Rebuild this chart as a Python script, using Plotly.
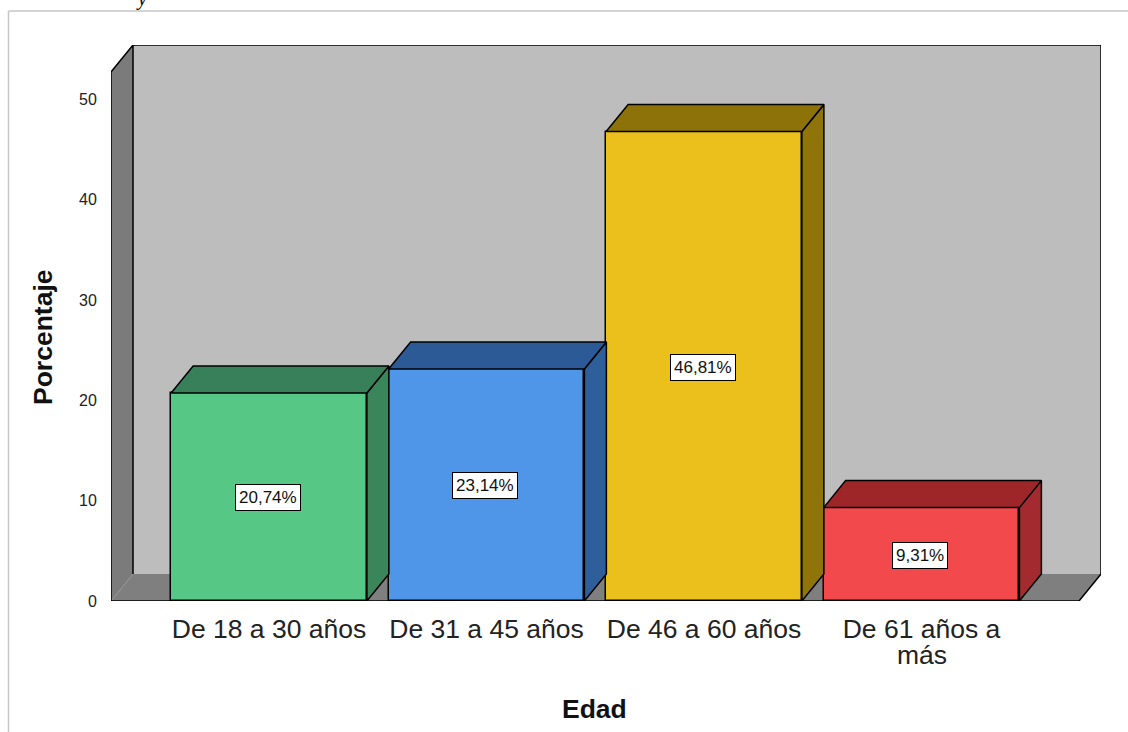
import plotly.graph_objects as go

categories = ["De 18 a 30 años", "De 31 a 45 años", "De 46 a 60 años", "De 61 años a", ]
category_second_line = ["", "", "", "más"]
values = [20.74, 23.14, 46.81, 9.31]
labels = ["20,74%", "23,14%", "46,81%", "9,31%"]
y_ticks = [0, 10, 20, 30, 40, 50]
front_colors = ["#57c785", "#4f96e8", "#ebc01c", "#f2494c"]
side_colors = ["#3a8559", "#2f5f9a", "#8f7409", "#a32a2e"]
top_colors = ["#38805a", "#2b5a96", "#8c7208", "#9e2629"]

W, H = 1128, 732
ML, MR, MT, MB = 111, 27, 45, 131
X0, STEP = 269.0, 217.5
Y0, UNIT = 601.0, 10.03
BAR_W = 0.9
DX = 22 / STEP
DY = 27 / UNIT
XR = [(ML - X0) / STEP, (W - MR - X0) / STEP]
YR = [0, (Y0 - MT) / UNIT]
xs = list(range(len(categories)))
PW, PH = W - ML - MR, H - MT - MB


def path(pts, close=True):
    return "M " + " L ".join(f"{a:.4f} {b:.4f}" for a, b in pts) + (" Z" if close else "")


def px(p):
    return (p - ML) / PW


def py(p):
    return (H - MB - p) / PH


x_l, x_r, y_t = XR[0], XR[1], YR[1]
NOLINE = dict(width=0)
shapes = [
    dict(type="path", path=path([(x_l + DX, DY), (x_r, DY), (x_r, y_t), (x_l + DX, y_t)]),
         fillcolor="#bdbdbd", line=NOLINE, layer="below"),
    dict(type="path", path=path([(x_l, 0), (x_l + DX, DY), (x_l + DX, y_t), (x_l, y_t - DY)]),
         fillcolor="#7b7b7b", line=NOLINE, layer="below"),
    dict(type="path", path=path([(x_l, 0), (x_r - DX, 0), (x_r, DY), (x_l + DX, DY)]),
         fillcolor="#7f7f7f", line=NOLINE, layer="below"),
    dict(type="path",
         path=path([(x_l + DX, DY), (x_l + DX, y_t), (x_r, y_t), (x_r, DY), (x_r - DX, 0),
                    (x_l, 0), (x_l, y_t - DY), (x_l + DX, y_t)], close=False),
         line=dict(color="#000000", width=1.5), layer="below"),
    # outer frame
    dict(type="line", xref="paper", yref="paper", x0=px(8.5), x1=px(W), y0=py(11), y1=py(11),
         line=dict(color="#c6c6c6", width=1.5), layer="below"),
    dict(type="line", xref="paper", yref="paper", x0=px(8.5), x1=px(8.5), y0=py(11), y1=py(H),
         line=dict(color="#c6c6c6", width=1.5), layer="below"),
]

fig = go.Figure()
fig.add_trace(go.Bar(
    x=xs, y=values, width=BAR_W,
    marker=dict(color=front_colors, line=dict(color="#000000", width=1.5)),
    hoverinfo="skip", showlegend=False,
))

for x, v, sc, tc in zip(xs, values, side_colors, top_colors):
    a, b = x - BAR_W / 2, x + BAR_W / 2
    fig.add_trace(go.Scatter(
        x=[b, b, b + DX, b + DX, b], y=[0, v, v + DY, DY, 0],
        mode="lines", fill="toself", fillcolor=sc,
        line=dict(color="#000000", width=1.5), hoverinfo="skip", showlegend=False,
    ))
    fig.add_trace(go.Scatter(
        x=[a, b, b + DX, a + DX, a], y=[v, v, v + DY, v + DY, v],
        mode="lines", fill="toself", fillcolor=tc,
        line=dict(color="#000000", width=1.5), hoverinfo="skip", showlegend=False,
    ))

annotations = [
    dict(x=x, y=v / 2, text=t, showarrow=False, bgcolor="#ffffff", bordercolor="#000000",
         borderwidth=1, borderpad=3, xshift=-1.5, yshift=-1,
         font=dict(family="Liberation Sans", size=17, color="#111111"))
    for x, v, t in zip(xs, values, labels)
]
annotations += [
    dict(x=x, xref="x", yref="paper", y=py(655), yanchor="middle", text=t, showarrow=False,
         font=dict(family="Liberation Sans", size=26.5, color="#222222"))
    for x, t in zip(xs, category_second_line) if t
]
annotations += [
    dict(xref="paper", yref="paper", x=px(134), y=py(-2), yanchor="middle", text="<i>y</i>",
         showarrow=False, font=dict(family="Liberation Serif", size=20, color="#000000")),
    dict(xref="paper", yref="paper", x=px(594), y=py(709), yanchor="middle", text="<b>Edad</b>",
         showarrow=False, font=dict(family="Liberation Sans", size=26.5, color="#111111")),
    dict(xref="paper", yref="paper", x=px(43), y=py(337), xanchor="center", yanchor="middle",
         text="<b>Porcentaje</b>", textangle=-90, showarrow=False,
         font=dict(family="Liberation Sans", size=26.5, color="#111111")),
]

fig.update_layout(
    width=W, height=H,
    margin=dict(l=ML, r=MR, t=MT, b=MB, autoexpand=False),
    paper_bgcolor="#ffffff", plot_bgcolor="rgba(0,0,0,0)",
    shapes=shapes, annotations=annotations,
    showlegend=False, bargap=0,
    font=dict(family="Liberation Sans", color="#222222"),
    xaxis=dict(
        range=XR, tickmode="array", tickvals=xs, ticktext=categories,
        tickfont=dict(size=26.5, color="#222222"), tickangle=0,
        ticks="outside", ticklen=4, tickcolor="rgba(0,0,0,0)",
        showgrid=False, zeroline=False, showline=False, automargin=False,
    ),
    yaxis=dict(
        range=YR, tickmode="array", tickvals=y_ticks,
        tickfont=dict(size=16, color="#222222"),
        ticks="outside", ticklen=10, tickcolor="rgba(0,0,0,0)",
        showgrid=False, zeroline=False, showline=False, automargin=False,
    ),
)

fig.write_html("out.html", config=dict(displayModeBar=False),
               post_script="document.body.style.margin='0';window.dispatchEvent(new Event('resize'));")
